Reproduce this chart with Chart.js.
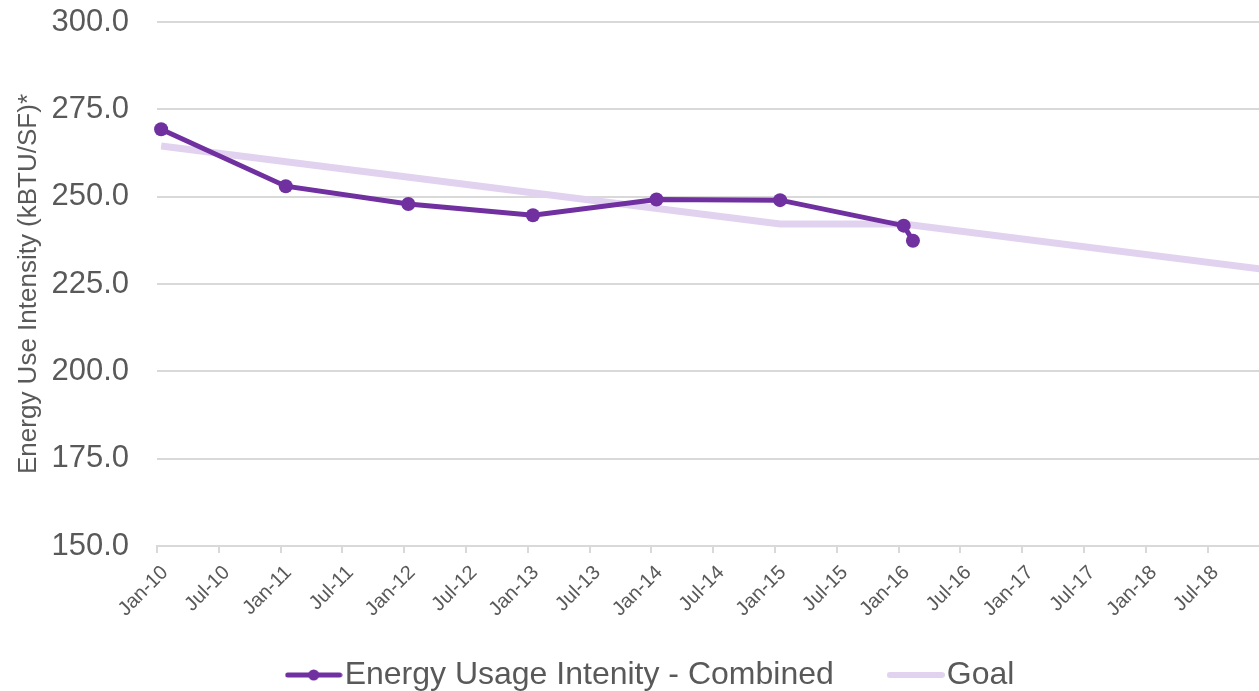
<!DOCTYPE html>
<html>
<head>
<meta charset="utf-8">
<script src="https://cdn.jsdelivr.net/npm/chart.js@4.4.1/dist/chart.umd.min.js"></script>
<style>
  html, body { margin: 0; padding: 0; background: #fff; }
  canvas { display: block; }
</style>
</head>
<body>
<canvas id="euiChart" width="1259" height="691"></canvas>
<script>
// x values are months counted from Jan-10 (0 = Jan 2010)
var euiMonths = [0.4, 12.5, 24.4, 36.5, 48.5, 60.5, 72.5, 73.4];
var euiValues = [269.3, 253.0, 247.9, 244.7, 249.2, 249.0, 241.7, 237.4];

var goalMonths = [0.4, 60.5, 72.5, 108.5];
var goalValues = [264.5, 242.2, 242.2, 228.8];

var tickMonths = [0, 6, 12, 18, 24, 30, 36, 42, 48, 54, 60, 66, 72, 78, 84, 90, 96, 102];
var tickLabels = ['Jan-10', 'Jul-10', 'Jan-11', 'Jul-11', 'Jan-12', 'Jul-12', 'Jan-13', 'Jul-13',
                  'Jan-14', 'Jul-14', 'Jan-15', 'Jul-15', 'Jan-16', 'Jul-16', 'Jan-17', 'Jul-17',
                  'Jan-18', 'Jul-18'];

var seriesNames = ['Energy Usage Intenity - Combined', 'Goal'];

var purple = '#7030A0';
var lavender = '#E1D3EF';
var textGray = '#595959';
var gridGray = '#D9D9D9';
var fontFamily = '"Liberation Sans", Arial, sans-serif';

function toPoints(xs, ys) {
  return xs.map(function (x, i) { return { x: x, y: ys[i] }; });
}

// little line (and dot) used as legend marker
function legendIcon(color, width, dot) {
  var c = document.createElement('canvas');
  c.width = 58;
  c.height = 14;
  var g = c.getContext('2d');
  g.strokeStyle = color;
  g.lineWidth = width;
  g.lineCap = 'round';
  g.beginPath();
  g.moveTo(3, 7);
  g.lineTo(55, 7);
  g.stroke();
  if (dot) {
    g.fillStyle = color;
    g.beginPath();
    g.arc(29, 7, 5.5, 0, Math.PI * 2);
    g.fill();
  }
  return c;
}

// nudge legend to where Excel put it, and let the rotated x labels run past the axis box
var layoutTweaks = {
  id: 'layoutTweaks',
  afterLayout: function (chart) {
    var lg = chart.legend;
    lg.left += 27;
    lg.right += 27;
    lg.top += 10;
    lg.bottom += 10;
    chart.scales.x.bottom = chart.height;
  }
};

var ctx = document.getElementById('euiChart').getContext('2d');

var myChart = new Chart(ctx, {
  type: 'line',
  data: {
    datasets: [
      {
        label: seriesNames[0],
        data: toPoints(euiMonths, euiValues),
        borderColor: purple,
        backgroundColor: purple,
        borderWidth: 5,
        pointRadius: 7,
        pointBorderWidth: 0,
        pointBackgroundColor: purple,
        tension: 0,
        fill: false,
        clip: 10
      },
      {
        label: seriesNames[1],
        data: toPoints(goalMonths, goalValues),
        borderColor: lavender,
        backgroundColor: lavender,
        borderWidth: 7,
        pointRadius: 0,
        tension: 0,
        fill: false
      }
    ]
  },
  options: {
    responsive: false,
    animation: false,
    layout: { autoPadding: false, padding: 0 },
    plugins: {
      tooltip: { enabled: false },
      legend: {
        display: true,
        position: 'bottom',
        align: 'center',
        labels: {
          usePointStyle: true,
          pointStyleWidth: 30,
          padding: 67,
          color: textGray,
          font: { family: fontFamily, size: 32 },
          generateLabels: function () {
            return [
              { text: seriesNames[0], pointStyle: legendIcon(purple, 5, true), fillStyle: purple, strokeStyle: purple, lineWidth: 0, fontColor: textGray, datasetIndex: 0 },
              { text: seriesNames[1], pointStyle: legendIcon(lavender, 6, false), fillStyle: lavender, strokeStyle: lavender, lineWidth: 0, fontColor: textGray, datasetIndex: 1 }
            ];
          }
        }
      }
    },
    scales: {
      x: {
        type: 'linear',
        min: 0,
        max: 107,
        afterBuildTicks: function (scale) {
          scale.ticks = tickMonths.map(function (m) { return { value: m }; });
        },
        afterFit: function (scale) {
          scale.height = 36;
          scale.paddingLeft = 0;
          scale.paddingRight = 0;
        },
        ticks: {
          autoSkip: false,
          minRotation: 45,
          maxRotation: 45,
          labelOffset: 8,
          padding: 8,
          color: textGray,
          font: { family: fontFamily, size: 20 },
          callback: function (value) {
            var i = tickMonths.indexOf(value);
            return i >= 0 ? tickLabels[i] : '';
          }
        },
        grid: {
          drawOnChartArea: false,
          drawTicks: true,
          tickLength: 7,
          color: gridGray,
          lineWidth: 2
        },
        border: { display: true, color: gridGray, width: 2 }
      },
      y: {
        min: 150,
        max: 300,
        afterFit: function (scale) {
          scale.width = 157;
          scale.paddingTop = 22;
          scale.paddingBottom = 0;
        },
        ticks: {
          stepSize: 25,
          padding: 28,
          color: textGray,
          font: { family: fontFamily, size: 31 },
          callback: function (value) { return value.toFixed(1); }
        },
        grid: {
          drawTicks: false,
          color: gridGray,
          lineWidth: 2
        },
        border: { display: false },
        title: {
          display: true,
          text: 'Energy Use Intensity (kBTU/SF)*',
          color: textGray,
          font: { family: fontFamily, size: 26 },
          padding: { top: 13, bottom: 0 }
        }
      }
    }
  },
  plugins: [layoutTweaks]
});
</script>
</body>
</html>
